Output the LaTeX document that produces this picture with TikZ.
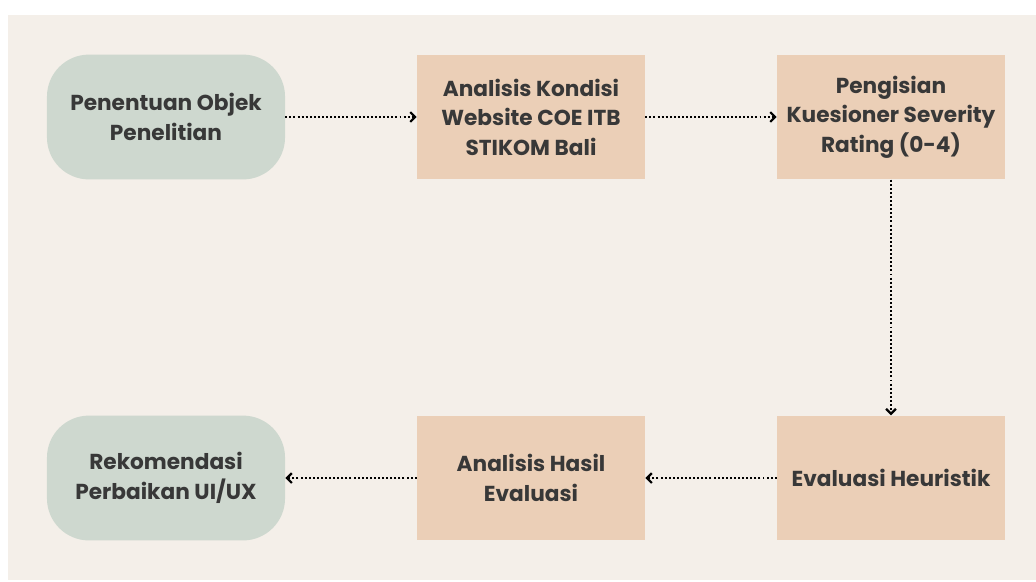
\documentclass[tikz,border=0pt]{standalone}
\usepackage{fontspec}
\setmainfont{Poppins}
\usetikzlibrary{arrows.meta}

\definecolor{bgcream}{HTML}{F4EFE9}
\definecolor{sage}{HTML}{CED8CF}
\definecolor{peach}{HTML}{EBCFB7}
\definecolor{inkgray}{HTML}{383838}

\begin{document}
\begin{tikzpicture}[x=0.025cm, y=-0.025cm,
    stepround/.style={fill=sage, rounded corners=1.05cm, minimum width=5.95cm, minimum height=3.12cm,
        align=center, text=inkgray, font=\fontsize{15.4}{21}\selectfont\bfseries},
    stepbox/.style={fill=peach, minimum width=5.7cm, minimum height=3.12cm,
        align=center, text=inkgray, font=\fontsize{15.4}{21}\selectfont\bfseries},
    flow/.style={line width=1.4pt, dash pattern=on 1.4pt off 1.5pt,
        -{Straight Barb[length=3.5pt, width=7pt, line width=1.6pt]}}]
\begin{scope}
    % Canvas
    \useasboundingbox (0, 0) rectangle (1036, 581);
    \fill[bgcream] (8, 15) rectangle (1036, 580);

    % Define nodes
    \draw (166, 117) node[stepround] (P1) {Penentuan Objek\\Penelitian};
    \draw (531, 117) node[stepbox] (P2) {Analisis Kondisi\\Website COE ITB\\STIKOM Bali};
    \draw (891, 117) node[stepbox] (P3) {Pengisian\\Kuesioner Severity\\Rating (0-4)};
    \draw (891, 478) node[stepbox] (P4) {Evaluasi Heuristik};
    \draw (531, 478) node[stepbox] (P5) {Analisis Hasil\\Evaluasi};
    \draw (166, 478) node[stepround] (P6) {Rekomendasi\\Perbaikan UI/UX};

    % Top row, then down and back
    \draw[flow] (P1) -- (P2);
    \draw[flow] (P2) -- (P3);
    \draw[flow] (P3) -- (P4);
    \draw[flow] (P4) -- (P5);
    \draw[flow] (P5) -- (P6);
\end{scope}
\end{tikzpicture}
\end{document}
